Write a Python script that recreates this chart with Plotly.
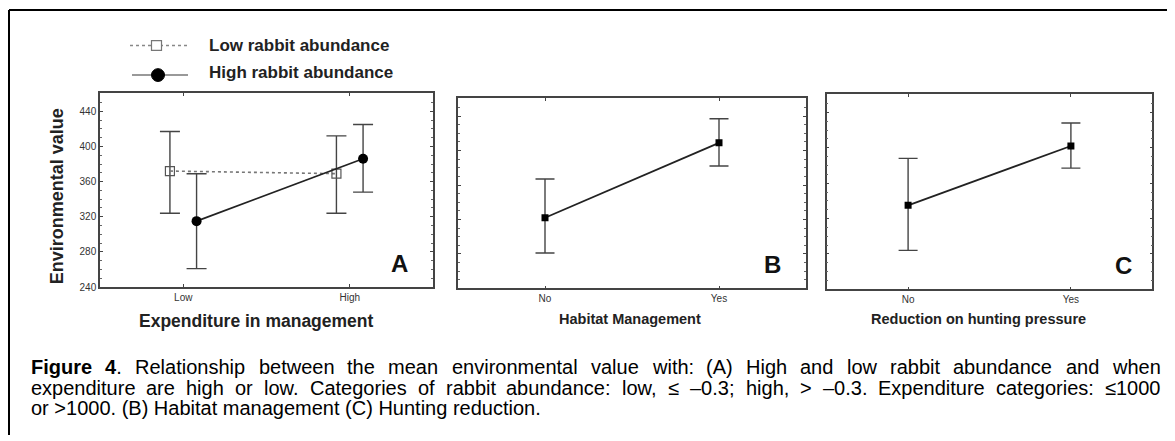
import plotly.graph_objects as go

# ---------------- data ----------------
exp_categories = ["Low", "High"]
low_rabbit_mean = [372, 369]
low_rabbit_err_plus = [45, 43]
low_rabbit_err_minus = [48, 45]
high_rabbit_mean = [315, 386]
high_rabbit_err_plus = [54, 39]
high_rabbit_err_minus = [54, 38]

hab_categories = ["No", "Yes"]
hab_mean = [322, 409]
hab_err_plus = [45, 28]
hab_err_minus = [41, 27]

hunt_categories = ["No", "Yes"]
hunt_mean = [335, 402]
hunt_err_plus = [53, 26]
hunt_err_minus = [51, 25]

y_ticks = [240, 280, 320, 360, 400, 440]

caption_lines = [
    [("Figure", True), ("4", True, "."), ("Relationship", False), ("between", False), ("the", False),
     ("mean", False), ("environmental", False), ("value", False), ("with:", False), ("(A)", False),
     ("High", False), ("and", False), ("low", False), ("rabbit", False), ("abundance", False),
     ("and", False), ("when", False)],
    "expenditure are high or low. Categories of rabbit abundance: low, ≤ –0.3; high, > –0.3. Expenditure categories: ≤1000",
    "or >1000. (B) Habitat management (C) Hunting reduction.",
]

# the page body has an 8px margin, so the figure is drawn 8px right/down
PAGE_OFF = 8
W, H = 1175 - PAGE_OFF, 441 - PAGE_OFF
def px(x):
    return (x - PAGE_OFF) / W
def py(y):
    return 1 - (y - PAGE_OFF) / H

fig = go.Figure()

OFF = 0.08
ebar = dict(type="data", symmetric=False, color="#444", thickness=1.4, width=10)

fig.add_trace(go.Scatter(
    x=[i - OFF for i in range(len(exp_categories))], y=low_rabbit_mean,
    mode="lines+markers", xaxis="x", yaxis="y",
    line=dict(color="#777", width=1.6, dash="dot"),
    marker=dict(symbol="square-open", size=9, color="#555", line=dict(width=1.2)),
    error_y=dict(ebar, array=low_rabbit_err_plus, arrayminus=low_rabbit_err_minus),
    showlegend=False))
fig.add_trace(go.Scatter(
    x=[i + OFF for i in range(len(exp_categories))], y=high_rabbit_mean,
    mode="lines+markers", xaxis="x", yaxis="y",
    line=dict(color="#222", width=1.8),
    marker=dict(symbol="circle", size=10, color="#000"),
    error_y=dict(ebar, array=high_rabbit_err_plus, arrayminus=high_rabbit_err_minus),
    showlegend=False))
fig.add_trace(go.Scatter(
    x=list(range(len(hab_categories))), y=hab_mean,
    mode="lines+markers", xaxis="x2", yaxis="y2",
    line=dict(color="#222", width=1.8),
    marker=dict(symbol="square", size=7, color="#000"),
    error_y=dict(ebar, array=hab_err_plus, arrayminus=hab_err_minus, width=9.5),
    showlegend=False))
fig.add_trace(go.Scatter(
    x=list(range(len(hunt_categories))), y=hunt_mean,
    mode="lines+markers", xaxis="x3", yaxis="y3",
    line=dict(color="#222", width=1.8),
    marker=dict(symbol="square", size=7, color="#000"),
    error_y=dict(ebar, array=hunt_err_plus, arrayminus=hunt_err_minus, width=9.5),
    showlegend=False))

tickfont = dict(family="Liberation Sans, Arial", size=10, color="#333")

def xaxis(dom, cats, anchor):
    return dict(domain=dom, range=[-0.5, 1.5], tickvals=list(range(len(cats))), ticktext=cats,
                anchor=anchor,
                showline=True, linecolor="#444", linewidth=1.5, mirror="ticks",
                ticks="inside", ticklen=3, tickcolor="#444", showgrid=False, zeroline=False,
                tickfont=tickfont, fixedrange=True)

def yaxis(dom, anchor, labels):
    return dict(domain=dom, range=[240, 461], tickvals=y_ticks, anchor=anchor,
                showline=True, linecolor="#444", linewidth=1.5, mirror="ticks",
                ticks="inside", ticklen=3, tickcolor="#444", showgrid=False, zeroline=False,
                showticklabels=labels, tickfont=tickfont,
                minor=dict(ticks="inside", ticklen=2, dtick=10, tickcolor="#666", showgrid=False),
                fixedrange=True)

fig.update_layout(
    width=W, height=H, margin=dict(l=0, r=0, t=0, b=0),
    paper_bgcolor="white", plot_bgcolor="white",
    xaxis=xaxis([px(100), px(433)], exp_categories, "y"),
    yaxis=yaxis([py(291), py(94)], "x", True),
    xaxis2=xaxis([px(458), px(806)], hab_categories, "y2"),
    yaxis2=yaxis([py(292.3), py(99.3)], "x2", False),
    xaxis3=xaxis([px(826.7), px(1152.3)], hunt_categories, "y3"),
    yaxis3=yaxis([py(293.3), py(95)], "x3", False),
)

shapes = []
# outer frame (top and left)
shapes.append(dict(type="line", xref="paper", yref="paper", x0=px(9), x1=1.0, y0=py(10), y1=py(10),
                   line=dict(color="#000", width=2)))
shapes.append(dict(type="line", xref="paper", yref="paper", x0=px(9), x1=px(9), y0=py(10), y1=0.0,
                   line=dict(color="#000", width=2)))
# legend samples
shapes.append(dict(type="line", xref="paper", yref="paper", x0=px(130), x1=px(187), y0=py(46), y1=py(46),
                   line=dict(color="#888", width=1.5, dash="dot")))
shapes.append(dict(type="rect", xref="paper", yref="paper", x0=px(151.5), x1=px(161.5), y0=py(51), y1=py(41),
                   line=dict(color="#777", width=1.2), fillcolor="white"))
shapes.append(dict(type="line", xref="paper", yref="paper", x0=px(132), x1=px(188), y0=py(76), y1=py(76),
                   line=dict(color="#777", width=1.5)))
shapes.append(dict(type="circle", xref="paper", yref="paper", x0=px(151.5), x1=px(164.5), y0=py(82.5), y1=py(69.5),
                   line=dict(color="#000", width=1), fillcolor="#000"))
fig.update_layout(shapes=shapes)

ann = []
def text(x, y, t, font, xanchor="center", **kw):
    ann.append(dict(x=px(x), y=py(y), xref="paper", yref="paper", text=t, showarrow=False,
                    xanchor=xanchor, yanchor="middle", font=font, **kw))

bold_leg = dict(family="Liberation Sans, Arial", size=17, color="#222")
text(207, 46, "<b>Low rabbit abundance</b>", bold_leg, "left")
text(207, 73, "<b>High rabbit abundance</b>", bold_leg, "left")
# axis titles
text(57, 199, "<b>Environmental value</b>", dict(family="Liberation Sans, Arial", size=18, color="#222"),
     textangle=-90)
text(137, 325, "<b>Expenditure in management</b>", dict(family="Liberation Sans, Arial", size=17.5, color="#222"),
     "left")
narrow = dict(family="Liberation Sans Narrow, Arial Narrow, Liberation Sans", size=14.5, color="#222")
text(630, 323, "<b>Habitat Management</b>", narrow)
text(978, 323, "<b>Reduction on hunting pressure</b>", narrow)
# panel letters
letter = dict(family="Liberation Sans, Arial", size=24, color="#111")
for lx, ly, t in [(399, 267, "A"), (772, 268, "B"), (1123, 269, "C")]:
    text(lx, ly, "<b>%s</b>" % t, letter)

# caption with justified lines
REG = {' ': 278, '(': 333, ')': 333, ',': 278, '.': 278, ':': 278, ';': 278, '>': 584, '<': 584,
       '≤': 549, '–': 556, '-': 333}
for d in "0123456789":
    REG[d] = 556
REG.update({'A': 667, 'B': 667, 'C': 722, 'D': 722, 'E': 667, 'F': 611, 'G': 778, 'H': 722, 'I': 278,
            'L': 556, 'M': 833, 'N': 722, 'O': 778, 'P': 667, 'R': 722, 'S': 667, 'T': 611,
            'a': 556, 'b': 556, 'c': 500, 'd': 556, 'e': 556, 'f': 278, 'g': 556, 'h': 556, 'i': 222,
            'j': 222, 'k': 500, 'l': 222, 'm': 833, 'n': 556, 'o': 556, 'p': 556, 'q': 556, 'r': 333,
            's': 500, 't': 278, 'u': 556, 'v': 500, 'w': 722, 'x': 500, 'y': 500, 'z': 500})
BOLD = dict(REG)
BOLD.update({'F': 611, 'i': 278, 'g': 611, 'u': 611, 'r': 389, 'e': 556, '4': 556})

CAP_SIZE = 20
CAP_FONT = dict(family="Liberation Sans, Arial", size=CAP_SIZE, color="#000")
LEFT, RIGHT = 29, 1158
line_y = [372, 393, 414]

def tokens_of(line):
    if isinstance(line, str):
        return [(w, False) for w in line.split(" ")]
    return line

def tok_width(tok):
    tbl = BOLD if tok[1] else REG
    w = sum(tbl.get(c, 556) for c in tok[0])
    if len(tok) > 2:
        w += sum(REG.get(c, 556) for c in tok[2])
    return w * CAP_SIZE / 1000.0

def tok_html(tok):
    h = "<b>%s</b>" % tok[0] if tok[1] else tok[0]
    if len(tok) > 2:
        h += tok[2]
    return h

for li, line in enumerate(caption_lines):
    toks = tokens_of(line)
    if li < 2:
        widths = [tok_width(t) for t in toks]
        gap = (RIGHT - LEFT - sum(widths)) / (len(toks) - 1)
        x = LEFT
        for t, w in zip(toks, widths):
            text(x, line_y[li], tok_html(t), CAP_FONT, "left")
            x += w + gap
    else:
        text(LEFT, line_y[li], " ".join(tok_html(t) for t in toks), CAP_FONT, "left")

fig.update_layout(annotations=ann)
fig.write_html("out.html")
